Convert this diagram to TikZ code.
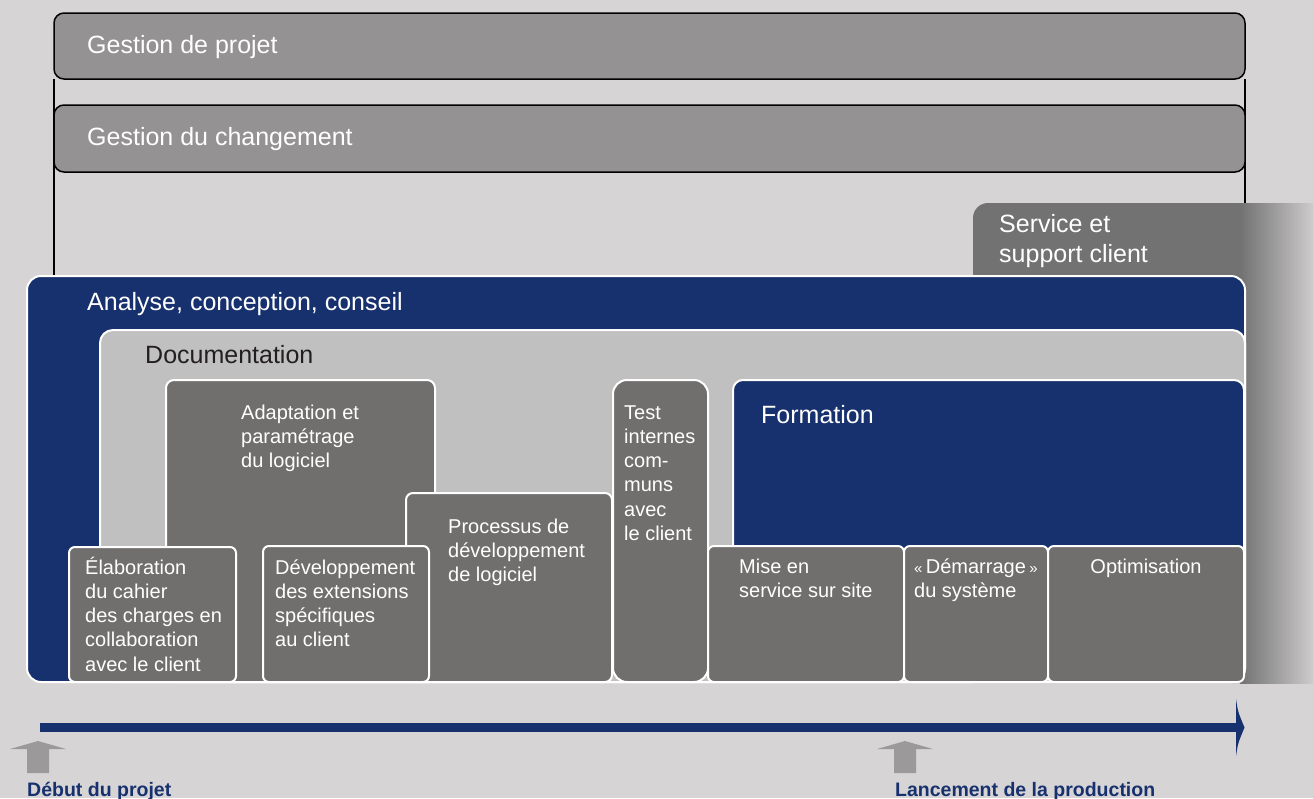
\documentclass[tikz,border=0pt]{standalone}
\usepackage{fontspec}
\setmainfont{Liberation Sans}
\definecolor{bgc}{RGB}{214,212,213}
\definecolor{navy}{RGB}{23,48,110}
\definecolor{gestg}{RGB}{148,146,146}
\definecolor{docg}{RGB}{192,192,192}
\definecolor{boxg}{RGB}{113,111,110}
\definecolor{servg}{RGB}{114,114,114}
\definecolor{arrg}{RGB}{155,153,153}
\definecolor{doct}{RGB}{35,31,32}
\newcommand\smallguil[1]{{\fontsize{15}{18}\selectfont #1}}
\begin{document}
\begin{tikzpicture}[x=1pt,y=-1pt,
  gestbox/.style={fill=gestg, draw=black, line width=1.5pt, rounded corners=10pt},
  navybox/.style={fill=navy, draw=white, line width=2pt},
  graybox/.style={fill=boxg, draw=white, line width=2pt},
  docbox/.style={fill=docg, draw=white, line width=2pt},
  big/.style={text=white, font=\fontsize{25}{30}\selectfont, anchor=base west, inner sep=0pt},
  small/.style={text=white, font=\fontsize{20}{24.3}\selectfont, anchor=base west, inner sep=0pt, align=left},
  milestone/.style={text=navy, font=\bfseries\fontsize{19.5}{23}\selectfont, anchor=base west, inner sep=0pt},
  uparrow/.style={fill=arrg}
]
\useasboundingbox (0,0) rectangle (1313,798);
\fill[bgc] (0,0) rectangle (1313,798);

% frame lines
\draw[black, line width=1.5pt] (54,79) -- (54,277);
\draw[black, line width=1.5pt] (1245,79) -- (1245,205);
% Gestion boxes
\draw[gestbox] (54,13) rectangle (1245,79);
\draw[gestbox] (54,105) rectangle (1245,172);

% Service box with gradient
\fill[servg, rounded corners=15pt] (973,683) -- (973,203) -- (1313,203) [sharp corners] -- (1313,683) -- cycle;
\shade[left color=servg, right color=bgc!96!black] (1240,203) rectangle (1313,683);

% Analyse
\draw[navybox, rounded corners=14pt] (27,276) rectangle (1245,682);
% Documentation
\draw[docbox, rounded corners=13pt] (100,330) rectangle (1245,682);
% Adaptation
\draw[graybox, rounded corners=8pt] (166,380) rectangle (435,682);
% Processus
\draw[graybox, rounded corners=7pt] (406,493) rectangle (612,682);
% Test
\draw[graybox, rounded corners=14pt] (613,380) rectangle (708,682);
% Formation
\draw[navybox, rounded corners=10pt] (733,380) rectangle (1244,560);
% lower boxes
\draw[graybox, rounded corners=6pt] (69,547) rectangle (236,682);
\draw[graybox, rounded corners=6pt] (263,546) rectangle (429,682);
\draw[graybox, rounded corners=6pt] (708,546) rectangle (904,682);
\draw[graybox, rounded corners=6pt] (904,546) rectangle (1048,682);
\draw[graybox, rounded corners=6pt] (1048,546) rectangle (1244,682);

% texts (multi-line nodes: base = baseline of last line)
\node[big] (gp) at (87,53) {Gestion de projet};
\node[big] (gc) at (87,145) {Gestion du changement};
\node[big] (ss1) at (999,232) {Service et};
\node[big] (ss2) at (999,262) {support client};
\node[big] (acc) at (87,310) {Analyse, conception, conseil};
\node[big, text=doct] (doc) at (145,363) {Documentation};
\node[big] (form) at (761,423) {Formation};
\node[small] (adapt) at (241,467.6) {Adaptation et\\paramétrage\\du logiciel};
\node[small] (proc) at (448,581.6) {Processus de\\développement\\de logiciel};
\node[small] (test) at (624,540.5) {Test\\internes\\com-\\muns\\avec\\le client};
\node[small] (elab) at (85,671.2) {Élaboration\\du cahier\\des charges en\\collaboration\\avec le client};
\node[small] (dev) at (275,646.9) {Développement\\des extensions\\spécifiques\\au client};
\node[small] (mise) at (739,597.3) {Mise en\\service sur site};
\node[small] (dem) at (914,597.3) {\smallguil{«}\,Démarrage\,\smallguil{»}\\du système};
\node[small, anchor=base] (opt) at (1146,573) {Optimisation};

% timeline
\coordinate (ts) at (40,727.5);
\coordinate (te) at (1237,727.5);
\draw[navy, line width=9pt] (ts) -- (te);
\fill[navy] (1236,699) .. controls (1238,712) .. (1244.5,727.5) .. controls (1238,743) .. (1236,756) -- cycle;

% milestone arrows
\fill[uparrow] (10,749) -- (38,741) -- (66,749) -- (49,749) -- (49,773) -- (27,773) -- (27,749) -- cycle;
\fill[uparrow] (877,749) -- (905,741) -- (933,749) -- (916,749) -- (916,773) -- (894,773) -- (894,749) -- cycle;
\node[milestone] (debut) at (27,796) {Début du projet};
\node[milestone] (lanc) at (895,796) {Lancement de la production};
\end{tikzpicture}
\end{document}
